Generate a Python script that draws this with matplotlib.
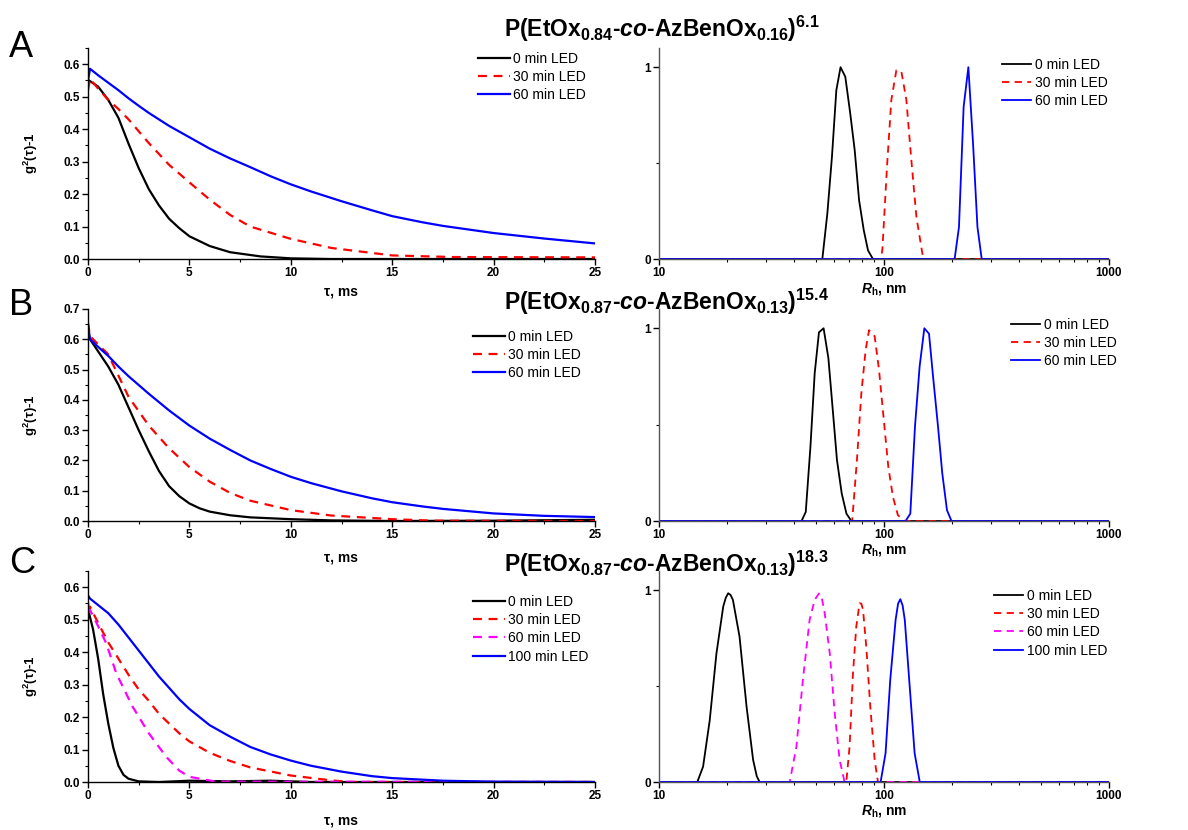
import matplotlib
matplotlib.use('Agg')
import matplotlib.pyplot as plt
from matplotlib.ticker import MultipleLocator, FormatStrFormatter, FixedLocator, NullFormatter, LogLocator

plt.rcParams['font.family'] = ['Liberation Sans', 'DejaVu Sans']
plt.rcParams['mathtext.fontset'] = 'custom'
plt.rcParams['mathtext.rm'] = 'Liberation Sans:bold'
plt.rcParams['mathtext.it'] = 'Liberation Sans:italic:bold'
plt.rcParams['mathtext.bf'] = 'Liberation Sans:bold'

W, H = 1188, 830

# ---- correlation functions g2(tau)-1 ----
# panel A
tauA_0 = [0, 0.5, 1.0, 1.5, 2.0, 2.5, 3.0, 3.5, 4.0, 4.5, 5, 6, 7, 8.5, 10, 12, 25]
gA_0 = [0.552, 0.531, 0.49, 0.435, 0.355, 0.28, 0.215, 0.165, 0.124, 0.095, 0.07, 0.04, 0.021, 0.008, 0.002, 0.0, 0.0]
tauA_30 = [0, 0.1, 0.5, 1, 1.5, 2, 3, 4, 5, 6, 7, 8, 10, 12, 15, 18, 25]
gA_30 = [0.52, 0.555, 0.525, 0.49, 0.462, 0.43, 0.357, 0.29, 0.236, 0.183, 0.136, 0.1, 0.062, 0.034, 0.011, 0.006, 0.005]
tauA_60 = [0, 0.1, 0.5, 1, 1.5, 2, 2.5, 3, 4, 5, 6, 7, 8, 9, 10, 11, 12.5, 14, 15, 16.5, 17.5, 20, 22.5, 25]
gA_60 = [0.55, 0.586, 0.566, 0.543, 0.52, 0.495, 0.472, 0.45, 0.41, 0.375, 0.34, 0.31, 0.283, 0.255, 0.23, 0.208,
         0.178, 0.15, 0.132, 0.113, 0.102, 0.08, 0.063, 0.048]

# panel B
tauB_0 = [0, 0.1, 0.5, 1, 1.5, 2, 2.5, 3, 3.5, 4, 4.5, 5, 5.5, 6, 7, 8, 10, 12, 15, 20, 25]
gB_0 = [0.625, 0.6, 0.56, 0.51, 0.45, 0.375, 0.30, 0.23, 0.165, 0.115, 0.082, 0.058, 0.042, 0.031, 0.019, 0.012,
        0.006, 0.002, 0.0, 0.001, 0.004]
tauB_30 = [0, 0.1, 1, 2, 3, 4, 5, 6, 7, 8, 10, 12, 15, 17, 25]
gB_30 = [0.655, 0.61, 0.55, 0.41, 0.315, 0.24, 0.178, 0.13, 0.093, 0.067, 0.036, 0.018, 0.006, 0.001, 0.0]
tauB_60 = [0, 0.1, 0.5, 1, 1.5, 2, 3, 4, 5, 6, 7, 8, 9, 10, 11, 12.5, 14, 15, 16.5, 17.5, 20, 22.5, 25]
gB_60 = [0.65, 0.6, 0.575, 0.545, 0.51, 0.478, 0.42, 0.365, 0.315, 0.272, 0.235, 0.2, 0.172, 0.146, 0.125,
         0.098, 0.075, 0.062, 0.048, 0.04, 0.025, 0.017, 0.013]

# panel C
tauC_0 = [0, 0.05, 0.25, 0.5, 0.75, 1.0, 1.25, 1.5, 1.75, 2.0, 2.5, 3.5, 5, 7, 9, 11, 25]
gC_0 = [0.55, 0.52, 0.47, 0.38, 0.27, 0.18, 0.105, 0.05, 0.022, 0.01, 0.002, 0.0, 0.004, 0.002, 0.004, 0.0, 0.0]
tauC_30 = [0, 0.1, 0.5, 1, 1.5, 2, 2.5, 3, 3.5, 4, 4.5, 5, 6, 7, 8, 10, 12, 13, 25]
gC_30 = [0.52, 0.54, 0.49, 0.43, 0.38, 0.33, 0.285, 0.25, 0.21, 0.18, 0.15, 0.125, 0.09, 0.065, 0.045, 0.02,
         0.005, 0.0, 0.0]
tauC_60 = [0, 0.1, 0.5, 0.9, 1.4, 2.2, 3.0, 3.85, 4.5, 5.0, 6.3, 25]
gC_60 = [0.52, 0.53, 0.48, 0.427, 0.334, 0.232, 0.15, 0.078, 0.035, 0.016, 0.001, 0.0]
tauC_100 = [0, 0.1, 0.5, 1, 1.5, 2, 2.5, 3, 3.5, 4, 4.5, 5, 6, 7, 8, 9, 10, 11, 12.5, 14, 15, 17.5, 20, 25]
gC_100 = [0.575, 0.565, 0.545, 0.52, 0.485, 0.445, 0.405, 0.365, 0.325, 0.29, 0.255, 0.225, 0.175, 0.14, 0.108,
          0.085, 0.066, 0.05, 0.032, 0.018, 0.012, 0.004, 0.001, 0.0]

# ---- size distributions ----
rA_0 = [10, 53.2, 56.0, 58.7, 61.4, 64.1, 67.3, 70.8, 74.1, 77.5, 81.3, 84.9, 89.3, 1000]
dA_0 = [0, 0, 0.237, 0.532, 0.88, 1.0, 0.95, 0.758, 0.567, 0.306, 0.15, 0.045, 0, 0]
rA_30 = [10, 97, 98.4, 103.1, 107.8, 113.5, 119.5, 125.7, 132.3, 139.3, 148, 150, 1000]
dA_30 = [0, 0, 0.054, 0.48, 0.83, 0.984, 0.976, 0.83, 0.515, 0.22, 0.03, 0, 0]
rA_60 = [10, 206, 215.4, 225.9, 237.1, 248.8, 260.2, 271.8, 1000]
dA_60 = [0, 0, 0.167, 0.793, 1.0, 0.6, 0.167, 0, 0]

rB_0 = [10, 43.0, 44.9, 47.1, 49.2, 51.4, 53.9, 56.6, 59.2, 61.8, 64.9, 68.1, 71.6, 1000]
dB_0 = [0, 0, 0.047, 0.385, 0.767, 0.979, 1.0, 0.845, 0.576, 0.316, 0.142, 0.038, 0, 0]
rB_30 = [10, 72.2, 75.8, 79.3, 82.9, 85.8, 90.9, 95.0, 99.8, 104.5, 109.6, 115.3, 123.5, 1000]
dB_30 = [0, 0, 0.316, 0.663, 0.889, 0.99, 0.958, 0.785, 0.524, 0.281, 0.125, 0.03, 0, 0]
rB_60 = [10, 124.7, 130.9, 137.3, 144.0, 151.1, 158.5, 165.2, 173.8, 181.6, 190.5, 199.5, 1000]
dB_60 = [0, 0, 0.038, 0.49, 0.802, 1.0, 0.972, 0.75, 0.49, 0.246, 0.056, 0, 0]

rC_0 = [10, 14.8, 15.7, 16.8, 18.0, 19.3, 19.8, 20.3, 20.8, 21.3, 22.8, 24.5, 26.2, 27.2, 28.0, 1000]
dC_0 = [0, 0, 0.08, 0.32, 0.67, 0.915, 0.96, 0.984, 0.975, 0.95, 0.758, 0.393, 0.115, 0.03, 0, 0]
rC_30 = [10, 68.0, 70.3, 72.8, 75.3, 77.9, 79.3, 80.7, 83.4, 86.9, 90.9, 94.0, 1000]
dC_30 = [0, 0, 0.184, 0.567, 0.81, 0.932, 0.93, 0.897, 0.706, 0.393, 0.115, 0, 0]
rC_60 = [10, 38.1, 40.8, 43.6, 46.7, 49.2, 51.4, 52.9, 54.5, 57.4, 60.4, 63.5, 66.8, 1000]
dC_60 = [0, 0, 0.184, 0.532, 0.845, 0.95, 0.983, 0.96, 0.88, 0.671, 0.358, 0.115, 0, 0]
rC_100 = [10, 96.6, 101.6, 106.6, 112.6, 115.5, 118.2, 121.0, 123.7, 130.1, 136.8, 144.2, 1000]
dC_100 = [0, 0, 0.15, 0.532, 0.845, 0.93, 0.953, 0.92, 0.845, 0.497, 0.15, 0, 0]

labels3 = ['0 min LED', '30 min LED', '60 min LED']
labels4 = ['0 min LED', '30 min LED', '60 min LED', '100 min LED']

titles = [
    r'P(EtOx$_{0.84}$-$co$-AzBenOx$_{0.16}$)$^{6.1}$',
    r'P(EtOx$_{0.87}$-$co$-AzBenOx$_{0.13}$)$^{15.4}$',
    r'P(EtOx$_{0.87}$-$co$-AzBenOx$_{0.13}$)$^{18.3}$',
]

STY = {
    'k': dict(color='black', lw=1.6, ls='-'),
    'r': dict(color='#ff0000', lw=1.6, ls=(0, (4, 3))),
    'm': dict(color='#ff00ff', lw=1.6, ls=(0, (4, 3))),
    'b': dict(color='#0000ff', lw=1.6, ls='-'),
}


def px_axes(fig, x0, x1, ytop, ybot):
    return fig.add_axes([x0 / W, 1 - ybot / H, (x1 - x0) / W, (ybot - ytop) / H])


def style_common(ax, spine_color='black'):
    for s in ['top', 'right']:
        ax.spines[s].set_visible(False)
    for s in ['left', 'bottom']:
        ax.spines[s].set_color(spine_color)
        ax.spines[s].set_linewidth(1.0)
    ax.tick_params(which='major', direction='out', length=4, width=1, labelsize=8.5, pad=2)
    ax.tick_params(which='minor', direction='out', length=2.5, width=0.8)
    for t in ax.get_xticklabels() + ax.get_yticklabels():
        t.set_fontweight('bold')


def add_legend(ax, fig, x, y, lines, labels, handlelength=2.3):
    ax.legend(lines, labels, loc='upper left', bbox_to_anchor=(x / W, 1 - y / H),
              bbox_transform=fig.transFigure, frameon=False, fontsize=10,
              borderpad=0, borderaxespad=0, handlelength=handlelength,
              handletextpad=0.25, labelspacing=0.3)


def left_panel(fig, ytop, ybot, ymax, curves, labels, leg_xy, lab_off):
    ax = px_axes(fig, 88, 595, ytop, ybot)
    lines = []
    for (t, g, k) in curves:
        ln, = ax.plot(t, g, **STY[k])
        lines.append(ln)
    ax.set_xlim(0, 25)
    ax.set_ylim(0, ymax)
    ax.xaxis.set_major_locator(MultipleLocator(5))
    ax.xaxis.set_minor_locator(MultipleLocator(2.5))
    ax.yaxis.set_major_locator(MultipleLocator(0.1))
    ax.yaxis.set_minor_locator(MultipleLocator(0.05))
    ax.yaxis.set_major_formatter(FormatStrFormatter('%.1f'))
    style_common(ax)
    ax.set_xlabel('τ, ms', fontsize=10, fontweight='bold')
    ax.xaxis.set_label_coords(0.5, -lab_off / (ybot - ytop))
    ax.set_ylabel('g$^{2}$(τ)-1', fontsize=9.5, fontweight='bold')
    ax.yaxis.set_label_coords(-48 / 507, 0.5)
    add_legend(ax, fig, leg_xy[0], leg_xy[1], lines, labels)
    return ax


def right_panel(fig, ytop, ybot, curves, labels, leg_xy, lab_off):
    ax = px_axes(fig, 659, 1109, ytop, ybot)
    lines = []
    for (r, d, k) in curves:
        st = dict(STY[k])
        st['lw'] = 1.3
        ln, = ax.plot(r, d, **st)
        lines.append(ln)
    ax.set_xscale('log')
    ax.set_xlim(10, 1000)
    ax.set_ylim(0, 1.1)
    ax.xaxis.set_major_locator(FixedLocator([10, 100, 1000]))
    ax.xaxis.set_major_formatter(FormatStrFormatter('%d'))
    ax.xaxis.set_minor_locator(LogLocator(base=10, subs=range(2, 10)))
    ax.xaxis.set_minor_formatter(NullFormatter())
    ax.yaxis.set_major_locator(FixedLocator([0, 1]))
    ax.yaxis.set_major_formatter(FormatStrFormatter('%d'))
    ax.yaxis.set_minor_locator(FixedLocator([0.5]))
    style_common(ax, spine_color='#555555')
    ax.set_xlabel(r'$R_{\mathrm{h}}$, nm', fontsize=10, fontweight='bold')
    ax.xaxis.set_label_coords(0.5, -lab_off / (ybot - ytop))
    add_legend(ax, fig, leg_xy[0], leg_xy[1], lines, labels, handlelength=2.1)
    return ax


fig = plt.figure(figsize=(W / 100, H / 100), dpi=100)

# row A
left_panel(fig, 48, 259, 0.65,
           [(tauA_0, gA_0, 'k'), (tauA_30, gA_30, 'r'), (tauA_60, gA_60, 'b')],
           labels3, (478, 52), 26)
right_panel(fig, 48, 259,
            [(rA_0, dA_0, 'k'), (rA_30, dA_30, 'r'), (rA_60, dA_60, 'b')],
            labels3, (1002, 58), 22)

# row B
left_panel(fig, 309, 521, 0.7,
           [(tauB_0, gB_0, 'k'), (tauB_30, gB_30, 'r'), (tauB_60, gB_60, 'b')],
           labels3, (473, 330), 30)
right_panel(fig, 309, 521,
            [(rB_0, dB_0, 'k'), (rB_30, dB_30, 'r'), (rB_60, dB_60, 'b')],
            labels3, (1011, 318), 21)

# row C
left_panel(fig, 571, 782, 0.65,
           [(tauC_0, gC_0, 'k'), (tauC_30, gC_30, 'r'), (tauC_60, gC_60, 'm'), (tauC_100, gC_100, 'b')],
           labels4, (473, 595), 31)
right_panel(fig, 571, 782,
            [(rC_0, dC_0, 'k'), (rC_30, dC_30, 'r'), (rC_60, dC_60, 'm'), (rC_100, dC_100, 'b')],
            labels4, (994, 589), 21)

# titles and panel letters
for ttl, yb in zip(titles, [37, 310, 572]):
    fig.text(504 / W, 1 - yb / H, ttl, fontsize=16.5, fontweight='bold', va='baseline', ha='left')
for let, yb in zip(['A', 'B', 'C'], [57, 315, 573]):
    fig.text(9 / W, 1 - yb / H, let, fontsize=26, va='baseline', ha='left')

fig.savefig('out.png', dpi=100)
